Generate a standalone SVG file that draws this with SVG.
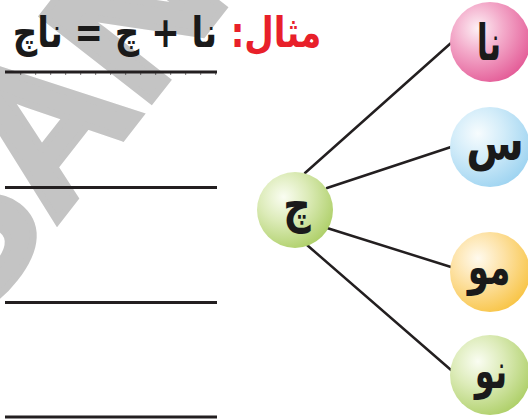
<svg xmlns="http://www.w3.org/2000/svg" width="528" height="419" viewBox="0 0 528 419">
<style>
.wm{font-family:"Liberation Sans",Arial,sans-serif;font-weight:bold;font-size:200px;fill:#c4c4c4;stroke:#c4c4c4;stroke-width:7;stroke-linejoin:miter}
.ur{font-family:"DejaVu Sans",sans-serif;font-weight:bold;fill:#1a1a1a}
.title{font-size:34px}
.red{fill:#e8202a}
.glyph{font-size:38px;text-anchor:middle}
.rule{stroke:#231f20;stroke-width:3}
.tick{stroke:#231f20;stroke-width:1.2;stroke-dasharray:1.2 13.8}
.conn line{stroke:#231f20;stroke-width:2.5;stroke-linecap:round}
.ball{stroke:none}
</style>
<defs>
<radialGradient id="gPink" cx="0.35" cy="0.33" r="0.72">
<stop offset="0" stop-color="#fdf0f5"/><stop offset="0.45" stop-color="#f3a9c9"/><stop offset="1" stop-color="#e45d98"/>
</radialGradient>
<radialGradient id="gBlue" cx="0.35" cy="0.33" r="0.72">
<stop offset="0" stop-color="#f7fcfe"/><stop offset="0.45" stop-color="#d2ecf9"/><stop offset="1" stop-color="#9fd4f1"/>
</radialGradient>
<radialGradient id="gOrange" cx="0.35" cy="0.33" r="0.72">
<stop offset="0" stop-color="#fffaee"/><stop offset="0.45" stop-color="#fde2a6"/><stop offset="1" stop-color="#f8c548"/>
</radialGradient>
<radialGradient id="gGreen" cx="0.35" cy="0.33" r="0.72">
<stop offset="0" stop-color="#fafdf2"/><stop offset="0.45" stop-color="#dcebb8"/><stop offset="1" stop-color="#afd06a"/>
</radialGradient>
</defs>
<rect width="528" height="419" fill="#ffffff"/>
<g id="watermark">
<text class="wm" transform="translate(-28,330) rotate(-52)">SANG</text>
</g>
<g id="title">
<text class="ur title red" transform="translate(276,47) scale(1,1.25)" text-anchor="middle" direction="rtl">مثال:</text>
<text class="ur title" transform="translate(217,47) scale(1,1.25)" text-anchor="start" direction="rtl">نا + چ = ناچ</text>
</g>
<g id="answer-lines">
<line class="rule" x1="5" y1="72" x2="217" y2="72"/>
<line class="tick" x1="20" y1="74" x2="217" y2="74"/>
<line class="rule" x1="5" y1="187.5" x2="217" y2="187.5"/>
<line class="tick" x1="20" y1="187.5" x2="217" y2="187.5"/>
<line class="rule" x1="5" y1="302.5" x2="217" y2="302.5"/>
<line class="tick" x1="20" y1="302.5" x2="217" y2="302.5"/>
<line class="rule" x1="5" y1="417" x2="217" y2="417"/>
<line class="tick" x1="20" y1="417" x2="217" y2="417"/>
</g>
<g id="connectors" class="conn">
<line x1="305" y1="173" x2="451" y2="43"/>
<line x1="327" y1="188" x2="451" y2="147"/>
<line x1="327" y1="228" x2="451" y2="267"/>
<line x1="307" y1="245" x2="451" y2="370"/>
</g>
<g id="node-center">
<circle class="ball" cx="295" cy="210" r="38" fill="url(#gGreen)"/>
<text class="ur glyph" transform="translate(297,222) scale(1,1.3)">چ</text>
</g>
<g id="node-na">
<circle class="ball" cx="490" cy="42" r="40" fill="url(#gPink)"/>
<text class="ur glyph" transform="translate(489,60) scale(0.85,1.3)">نا</text>
</g>
<g id="node-seen">
<circle class="ball" cx="490" cy="147" r="40" fill="url(#gBlue)"/>
<text class="ur glyph" transform="translate(495,160) scale(1.1,1.3)">س</text>
</g>
<g id="node-mo">
<circle class="ball" cx="490" cy="272" r="40" fill="url(#gOrange)"/>
<text class="ur glyph" transform="translate(489,284) scale(0.9,1.3)">مو</text>
</g>
<g id="node-no">
<circle class="ball" cx="490" cy="375" r="40" fill="url(#gGreen)"/>
<text class="ur glyph" transform="translate(491,388) scale(0.85,1.3)">نو</text>
</g>
</svg>
